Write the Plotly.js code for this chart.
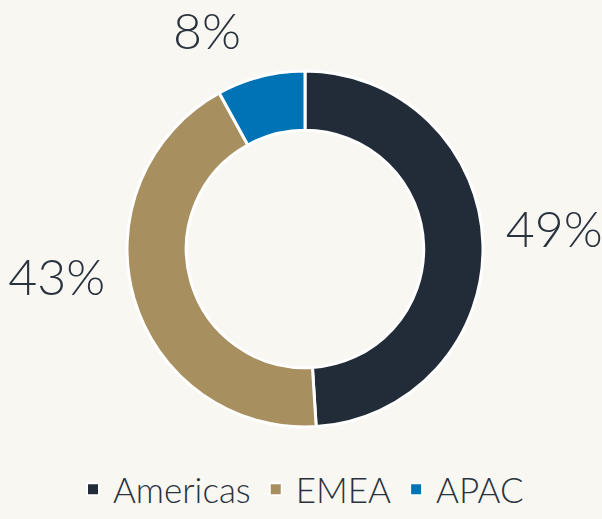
<!DOCTYPE html>
<html>
<head>
<meta charset="utf-8">
<script src="https://cdn.plot.ly/plotly-3.0.1.min.js"></script>
<style>
  html, body { margin: 0; padding: 0; background: #f8f7f2; }
  #chart { width: 602px; height: 519px; }
</style>
</head>
<body>
<div id="chart"></div>
<script>
const regions = ["Americas", "EMEA", "APAC"];
const shares = [49, 43, 8];
const colors = ["#222b38", "#a88f5f", "#0073b7"];

const labelSize = 50;
const labelTemplate = '<span style="font-size:' + labelSize + 'px">%{percent:.0%}</span><br> ';
// per-slice size of the trailing spacer line (nudges each outside label)
const spacerSizes = [28, 44, 20];

const trace = {
  type: "pie",
  labels: regions,
  values: shares,
  hole: 0.667,
  sort: false,
  direction: "clockwise",
  rotation: 0,
  marker: { colors: colors, line: { color: "#ffffff", width: 3 } },
  textinfo: "percent",
  texttemplate: labelTemplate,
  textposition: "outside",
  outsidetextfont: { family: "Lato, 'Open Sans', sans-serif", size: spacerSizes, color: "#2a323e", weight: 300 },
  domain: { x: [0.211, 0.8023], y: [0.1773, 0.8632] },
  automargin: false,
  showlegend: true
};

const layout = {
  width: 602,
  height: 519,
  margin: { l: 0, r: 0, t: 0, b: 0 },
  paper_bgcolor: "#f8f7f2",
  plot_bgcolor: "#f8f7f2",
  font: { family: "Lato, 'Open Sans', sans-serif", color: "#2a323e" },
  showlegend: true,
  legend: {
    orientation: "h",
    x: 0.5, xanchor: "center",
    y: 0, yanchor: "bottom",
    font: { size: 35, color: "#2a323e", weight: 300 },
    itemsizing: "constant"
  }
};

Plotly.newPlot("chart", [trace], layout, { displayModeBar: false, staticPlot: true });
</script>
</body>
</html>
